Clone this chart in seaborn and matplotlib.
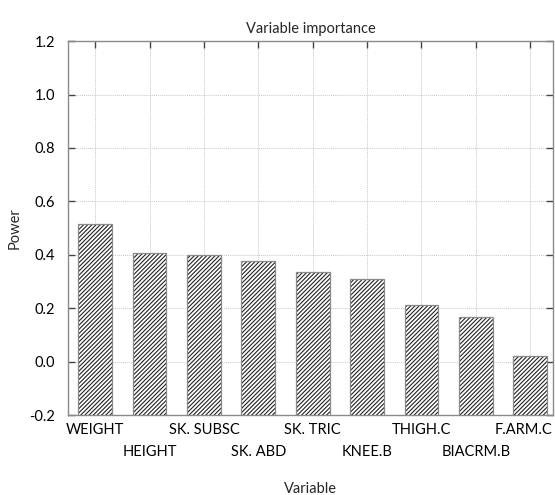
import matplotlib
matplotlib.use("Agg")
import matplotlib.pyplot as plt
import seaborn as sns
import pandas as pd
from matplotlib.colors import to_rgba
from matplotlib.transforms import ScaledTranslation

variables = ["WEIGHT", "HEIGHT", "SK. SUBSC", "SK. ABD", "SK. TRIC",
             "KNEE.B", "THIGH.C", "BIACRM.B", "F.ARM.C"]
power = [0.516, 0.406, 0.399, 0.376, 0.335, 0.309, 0.212, 0.167, 0.022]
y_ticks = [-0.2, 0.0, 0.2, 0.4, 0.6, 0.8, 1.0, 1.2]

sns.set_theme(style="white")
plt.rcParams["font.family"] = ["Lato", "DejaVu Sans"]
plt.rcParams["axes.unicode_minus"] = False
plt.rcParams["hatch.linewidth"] = 0.8

df = pd.DataFrame({"Variable": variables, "Power": power})

fig = plt.figure(figsize=(5.55, 4.95), dpi=100)
ax = fig.add_axes([0.1225, 0.1616, 0.874, 0.7554])

sns.barplot(data=df, x="Variable", y="Power", ax=ax, color="white",
            width=0.62, edgecolor="#333333", linewidth=0.9, hatch="////////",
            zorder=3)

base = y_ticks[0]
for p in ax.patches:
    h = p.get_height()
    p.set_y(base)
    p.set_height(h - base)
    p.set_edgecolor("#8a8a8a")
    p._hatch_color = to_rgba("#222222")

ax.set_ylim(y_ticks[0], y_ticks[-1])
ax.set_xlim(-0.5, len(variables) - 1 + 0.42)
ax.set_yticks(y_ticks)
ax.set_yticklabels([f"{v:.1f}" for v in y_ticks])
ax.set_xticks(range(len(variables)))
ax.set_xticklabels(variables)

ax.grid(True, linestyle=(0, (1, 1)), color="#c8c8c8", linewidth=0.7, zorder=0)
ax.set_axisbelow(True)
for s in ax.spines.values():
    s.set_color("#8a8a8a")
    s.set_linewidth(1.0)

ax.tick_params(axis="both", direction="in", length=5, width=1.0, color="#444444",
               top=True, right=True, bottom=True, left=True,
               labelsize=10.5, labelcolor="black")
ax.tick_params(axis="y", pad=9)
ax.tick_params(axis="x", pad=6)
for i, t in enumerate(ax.xaxis.get_major_ticks()):
    if i % 2 == 1:
        t.set_pad(21.5)

last = ax.get_xticklabels()[-1]
last.set_transform(last.get_transform() + ScaledTranslation(-5 / 72, 0, fig.dpi_scale_trans))

ax.set_title("Variable importance", fontsize=10.5, pad=6)
ax.set_xlabel("Variable", fontsize=10.5)
ax.xaxis.set_label_coords(0.5, -0.178)
ax.set_ylabel("Power", fontsize=10.5, labelpad=6)

fig.savefig("out.png", dpi=100)
